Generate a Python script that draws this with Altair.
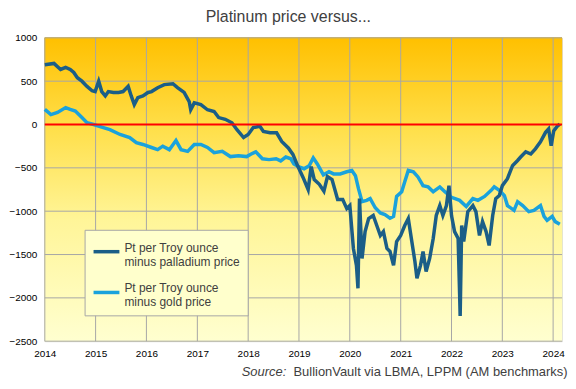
import altair as alt
import pandas as pd

# ---- data (fractional year, USD/oz) ----
pd_years = [2014.00, 2014.18, 2014.31, 2014.41, 2014.50, 2014.57, 2014.64, 2014.73, 2014.83, 2014.93,
            2014.99, 2015.06, 2015.12, 2015.19, 2015.25, 2015.35, 2015.45, 2015.54, 2015.64, 2015.70,
            2015.76, 2015.83, 2015.93, 2016.03, 2016.10, 2016.22, 2016.35, 2016.52, 2016.61, 2016.74,
            2016.84, 2016.87, 2016.94, 2017.07, 2017.20, 2017.33, 2017.42, 2017.55, 2017.68, 2017.78,
            2017.91, 2018.00, 2018.10, 2018.23, 2018.30, 2018.43, 2018.56, 2018.66, 2018.79, 2018.88,
            2018.98, 2019.08, 2019.18, 2019.24, 2019.30, 2019.40, 2019.49, 2019.56, 2019.65, 2019.76,
            2019.86, 2019.94, 2020.00, 2020.07, 2020.13, 2020.16, 2020.19, 2020.24, 2020.30, 2020.37,
            2020.46, 2020.53, 2020.60, 2020.66, 2020.73, 2020.79, 2020.86, 2020.92, 2021.00, 2021.08,
            2021.15, 2021.21, 2021.28, 2021.32, 2021.39, 2021.44, 2021.50, 2021.57, 2021.64, 2021.70,
            2021.77, 2021.83, 2021.90, 2021.95, 2022.00, 2022.06, 2022.13, 2022.16, 2022.17, 2022.20,
            2022.24, 2022.32, 2022.42, 2022.48, 2022.55, 2022.61, 2022.68, 2022.74, 2022.81, 2022.87,
            2022.94, 2023.00, 2023.10, 2023.20, 2023.30, 2023.36, 2023.46, 2023.56, 2023.65, 2023.75,
            2023.85, 2023.91, 2023.96, 2024.01, 2024.08, 2024.13]
pd_vals = [690, 705, 635, 660, 635, 600, 540, 500, 440, 390,
           380, 500, 380, 330, 380, 370, 370, 380, 440, 330,
           230, 310, 330, 370, 380, 425, 460, 470, 425, 370,
           265, 170, 250, 230, 170, 150, 80, 60, 20, -60,
           -150, -115, -35, -20, -80, -95, -95, -195, -270, -345,
           -485, -610, -750, -485, -635, -690, -770, -600, -635, -865,
           -865, -970, -935, -1430, -1625, -1890, -855, -1545, -1235, -1085,
           -1050, -1165, -1280, -1235, -1430, -1465, -1625, -1350, -1280, -1165,
           -1085, -1315, -1580, -1775, -1625, -1465, -1695, -1545, -1315, -1050,
           -935, -1050, -935, -705, -1050, -1235, -1315, -1965, -2210, -1165,
           -1350, -1005, -935, -1005, -1280, -1120, -1235, -1395, -1050, -855,
           -820, -705, -625, -475, -415, -375, -315, -340, -280, -200,
           -90, -50, -245, -75, -20, 5]

au_years = [2014.00, 2014.12, 2014.25, 2014.41, 2014.50, 2014.60, 2014.73, 2014.83, 2014.96, 2015.12,
            2015.28, 2015.48, 2015.67, 2015.80, 2015.93, 2016.10, 2016.22, 2016.32, 2016.45, 2016.58,
            2016.68, 2016.81, 2016.94, 2017.07, 2017.20, 2017.33, 2017.49, 2017.65, 2017.81, 2017.97,
            2018.06, 2018.15, 2018.28, 2018.41, 2018.55, 2018.64, 2018.74, 2018.84, 2018.90, 2019.00,
            2019.10, 2019.20, 2019.28, 2019.36, 2019.48, 2019.59, 2019.68, 2019.81, 2019.94, 2020.04,
            2020.11, 2020.17, 2020.24, 2020.33, 2020.40, 2020.50, 2020.60, 2020.69, 2020.79, 2020.86,
            2020.92, 2021.02, 2021.08, 2021.15, 2021.25, 2021.34, 2021.44, 2021.54, 2021.64, 2021.77,
            2021.87, 2022.00, 2022.16, 2022.29, 2022.42, 2022.52, 2022.65, 2022.78, 2022.84, 2022.94,
            2023.04, 2023.10, 2023.23, 2023.30, 2023.40, 2023.52, 2023.62, 2023.75, 2023.82, 2023.88,
            2023.98, 2024.04, 2024.13]
au_vals = [175, 115, 140, 195, 175, 155, 80, 20, 0, -30,
           -60, -115, -150, -210, -230, -265, -290, -250, -290, -185,
           -290, -310, -230, -230, -265, -325, -310, -370, -360, -370,
           -340, -315, -395, -405, -395, -420, -375, -395, -455, -490,
           -510, -475, -385, -455, -580, -545, -570, -570, -545, -530,
           -590, -740, -890, -875, -855, -960, -1020, -1040, -1080, -1060,
           -830, -775, -660, -530, -545, -605, -705, -720, -775, -720,
           -775, -840, -875, -945, -855, -875, -830, -760, -720, -760,
           -820, -935, -990, -890, -935, -1005, -990, -935, -1060, -1105,
           -1060, -1120, -1150]

grid_years = list(range(2014, 2025))
y_ticks = [-2500, -2000, -1500, -1000, -500, 0, 500, 1000]

PD_NAME = "Pt per Troy ounce|minus palladium price"
AU_NAME = "Pt per Troy ounce|minus gold price"
TITLE = "Platinum price versus..."
SOURCE_A = "Source:"
SOURCE_B = "BullionVault via LBMA, LPPM (AM benchmarks)"

FONT = "Liberation Sans"
TXT = "#404040"
GRID = "#A6A6A6"
W, H = 520, 305


def to_dates(years):
    base = pd.Timestamp("2014-01-01")
    return [(base + pd.Timedelta(days=(y - 2014) * 365.25)).strftime("%Y-%m-%dT%H:%M:%S") for y in years]


df_pd = pd.DataFrame({"date": to_dates(pd_years), "value": pd_vals, "series": PD_NAME})
df_au = pd.DataFrame({"date": to_dates(au_years), "value": au_vals, "series": AU_NAME})
df_gx = pd.DataFrame({"date": [f"{y}-01-01T00:00:00" for y in grid_years]})
df_gy = pd.DataFrame({"v": y_ticks})

x_scale = alt.Scale(domain=[alt.DateTime(year=2014, month=1, date=1),
                            alt.DateTime(year=2024, month=3, date=5)])
y_scale = alt.Scale(domain=[-2500, 1000], nice=False)

x_axis = alt.Axis(values=[alt.DateTime(year=y, month=1, date=1) for y in grid_years], format="%Y",
                  grid=False, ticks=False, domain=False, labelPadding=7, labelFlush=False,
                  labelOverlap=False, title=None)
y_axis = alt.Axis(values=y_ticks, format="d", grid=False, ticks=False, domain=False,
                  labelPadding=8, title=None)

color = alt.Color("series:N",
                  scale=alt.Scale(domain=[PD_NAME, AU_NAME], range=["#1B5E87", "#1AA2DC"]),
                  legend=alt.Legend(title=None, orient="none", legendX=40, legendY=193,
                                    fillColor="#FFFFCC", strokeColor=GRID, padding=7,
                                    symbolType="stroke", symbolSize=676, symbolStrokeWidth=3.5,
                                    labelExpr="split(datum.label, '|')", labelFont=FONT,
                                    labelFontSize=12, labelColor=TXT, labelLimit=0,
                                    labelBaseline="alphabetic", labelOffset=3, rowPadding=10))

bg = alt.Chart(df_gy).mark_rect(
    fill=alt.Gradient(gradient="linear", x1=0, x2=0, y1=0, y2=1,
                      stops=[alt.GradientStop(color="#FFC000", offset=0),
                             alt.GradientStop(color="#FFDF4A", offset=0.3),
                             alt.GradientStop(color="#FFF598", offset=0.6),
                             alt.GradientStop(color="#FFFFD0", offset=1)])
).encode(x=alt.value(0), x2=alt.value(W), y=alt.value(0), y2=alt.value(H))

gx = alt.Chart(df_gx).mark_rule(color=GRID, strokeWidth=1).encode(
    x=alt.X("date:T", scale=x_scale, axis=x_axis))
gy = alt.Chart(df_gy).mark_rule(color=GRID, strokeWidth=1).encode(
    y=alt.Y("v:Q", scale=y_scale, axis=y_axis))

line_au = alt.Chart(df_au).mark_line(strokeWidth=3.5, interpolate="linear").encode(
    x=alt.X("date:T", scale=x_scale, axis=x_axis),
    y=alt.Y("value:Q", scale=y_scale, axis=y_axis),
    color=color)
line_pd = alt.Chart(df_pd).mark_line(strokeWidth=3.5, interpolate="linear").encode(
    x=alt.X("date:T", scale=x_scale, axis=x_axis),
    y=alt.Y("value:Q", scale=y_scale, axis=y_axis),
    color=color)

zero = alt.Chart(pd.DataFrame({"v": [0]})).mark_rule(color="#FF0000", strokeWidth=2).encode(
    y=alt.Y("v:Q", scale=y_scale, axis=y_axis))

src_a = alt.Chart(pd.DataFrame({"t": [SOURCE_A]})).mark_text(
    align="left", baseline="middle", font=FONT, fontSize=13, fontStyle="italic", color=TXT
).encode(text="t:N", x=alt.value(198), y=alt.value(H + 31))
src_b = alt.Chart(pd.DataFrame({"t": [SOURCE_B]})).mark_text(
    align="left", baseline="middle", font=FONT, fontSize=13, color=TXT
).encode(text="t:N", x=alt.value(250), y=alt.value(H + 31))

chart = alt.layer(bg, gx, gy, line_au, line_pd, zero, src_a, src_b).properties(
    width=W, height=H, padding=0,
    title=alt.Title(TITLE, font=FONT, fontSize=16, fontWeight="normal", color=TXT,
                    anchor="middle", frame="bounds", offset=8),
).configure_view(stroke=GRID, strokeWidth=1).configure_axis(
    labelFont=FONT, labelFontSize=12, labelColor=TXT
).configure(background="white")

chart.save("out.html", embed_options={"renderer": "svg", "actions": False})
